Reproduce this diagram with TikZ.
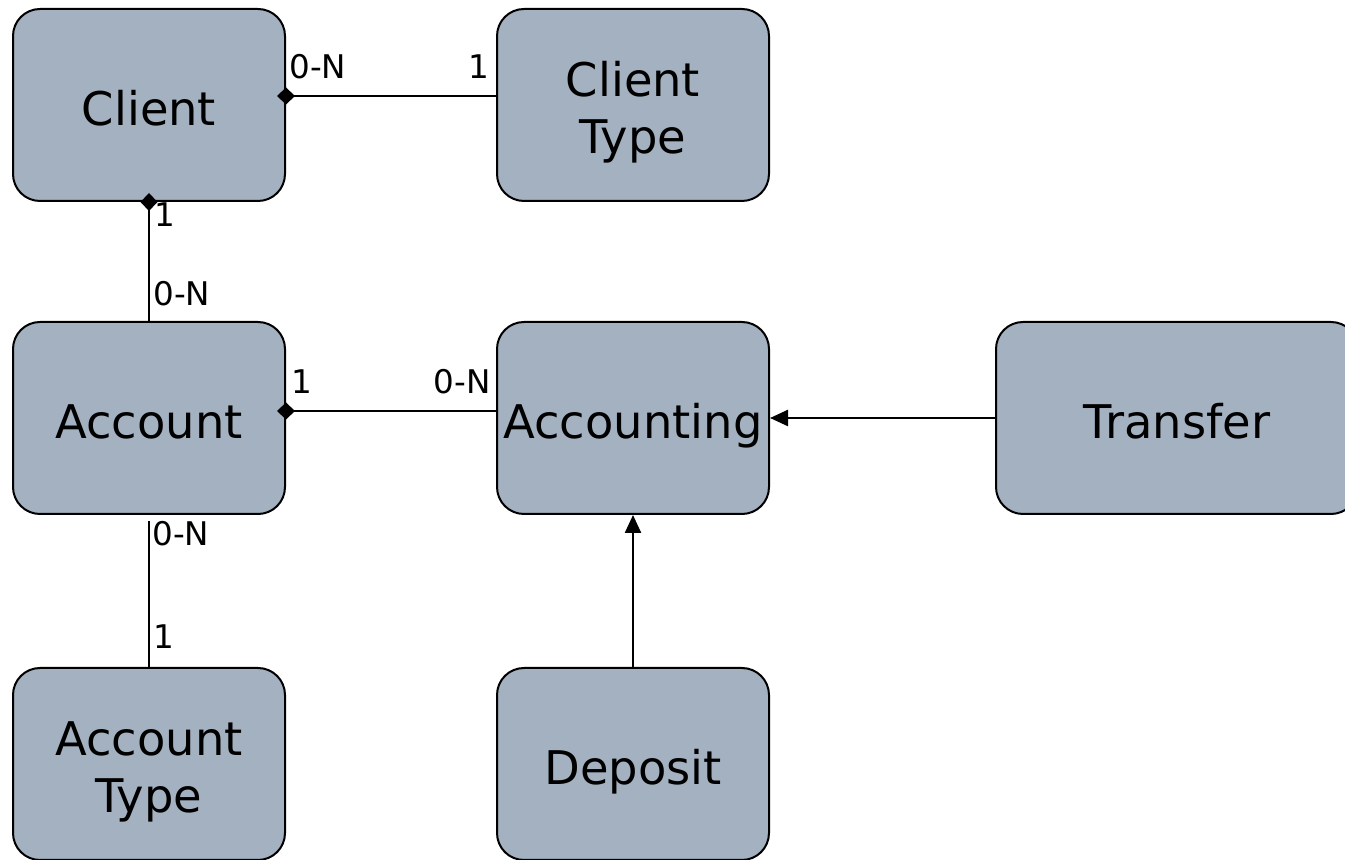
\documentclass[tikz,border=0pt]{standalone}
\usepackage{fontspec}
\setmainfont{DejaVu Sans}
\usetikzlibrary{arrows.meta,calc}
\definecolor{entityfill}{RGB}{163,177,192}
% entity caption: rows centred, lowered a little inside the box
\newcommand\entitytext[1]{\raisebox{-4.4pt}[\height][\depth]{\begin{tabular}{@{}c@{}}#1\end{tabular}}}
\tikzset{
  entity/.style={draw=black, line width=1pt, fill=entityfill, rounded corners=13.5pt,
    minimum width=136pt, minimum height=96pt, inner sep=0pt,
    font=\fontsize{23.2}{28.5}\selectfont},
  link/.style={line width=1.2pt},
  owner/.style={link, {Diamond[length=9pt,width=8.5pt]}-, shorten <=-4.5pt},
  inherit/.style={link, -{Triangle[length=9pt,width=8pt]}},
  card/.style={inner sep=0pt, font=\fontsize{16.3}{19}\selectfont},
}
\begin{document}
\begin{tikzpicture}[x=0.5pt,y=-0.5pt]
\useasboundingbox (0,0) rectangle (1345,860);
\clip (0,0) rectangle (1345,860);

% entities
\node[entity] (client)     at (149,105) {\entitytext{Client}};
\node[entity] (ctype)      at (633,105) {\entitytext{Client\\Type}};
\node[entity] (account)    at (149,418) {\entitytext{Account}};
\node[entity] (accounting) at (633,418) {\entitytext{Accounting}};
\node[entity, minimum width=181pt] (transfer) at (1177,418) {\entitytext{Transfer}};
\node[entity] (accttype)   at (149,764) {\entitytext{Account\\Type}};
\node[entity] (deposit)    at (633,764) {\entitytext{Deposit}};

% associations
\coordinate (c1) at ($(client.east)+(0,-9)$);
\draw[owner] (c1) -- (c1 -| ctype.west);
\draw[owner] (client.south) -- (account.north);
\coordinate (a1) at ($(account.east)+(0,-7)$);
\draw[owner] (a1) -- (a1 -| accounting.west);
\draw[link, shorten <=3pt] (account.south) -- (accttype.north);

% specialisations
\draw[inherit] (transfer.west) -- (accounting.east);
\draw[inherit] (deposit.north) -- (accounting.south);

% cardinalities
\node[card, anchor=base west] (k1) at (289,79)  {0-N};
\node[card, anchor=base east] (k2) at (490,79)  {1};
\node[card, anchor=base west] (k3) at (154,227) {1};
\node[card, anchor=base west] (k4) at (153,306) {0-N};
\node[card, anchor=base west] (k5) at (291,394) {1};
\node[card, anchor=base east] (k6) at (491,394) {0-N};
\node[card, anchor=base west] (k7) at (152,546) {0-N};
\node[card, anchor=base west] (k8) at (153,649) {1};
\end{tikzpicture}
\end{document}
